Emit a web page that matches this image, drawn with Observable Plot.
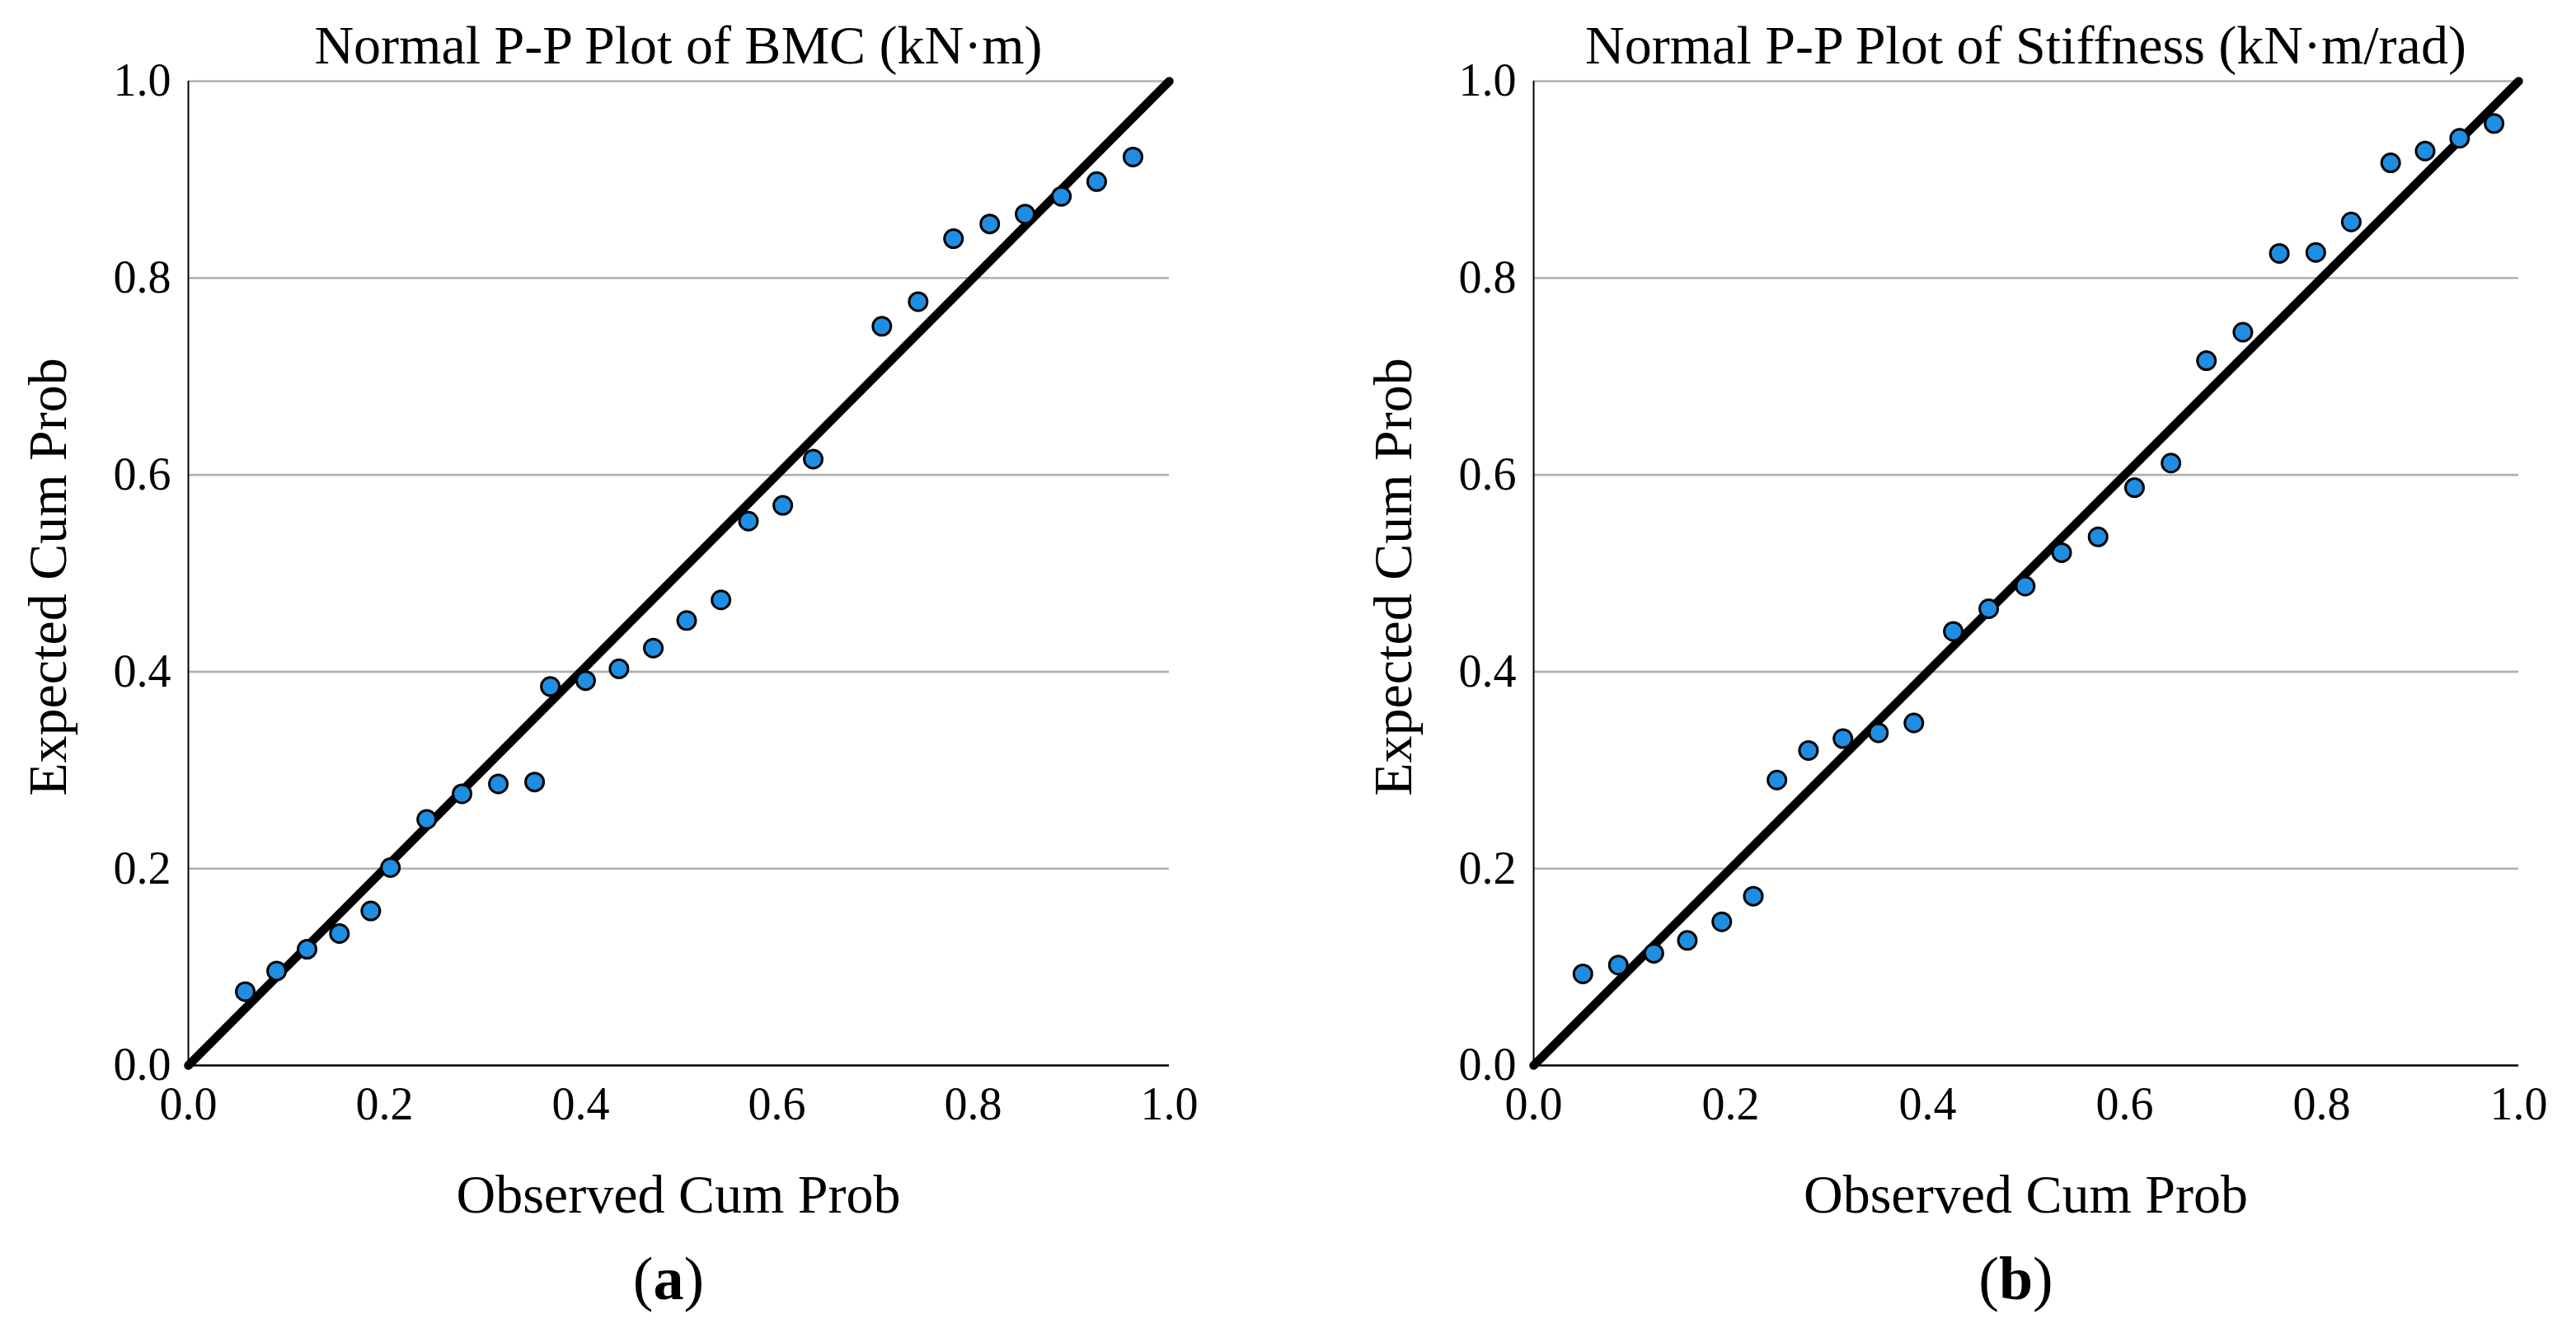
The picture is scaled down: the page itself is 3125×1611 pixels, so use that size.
<!DOCTYPE html>
<html><head><meta charset="utf-8">
<script src="https://cdn.jsdelivr.net/npm/d3@7"></script>
<script src="https://cdn.jsdelivr.net/npm/@observablehq/plot@0.6"></script>
<style>
html,body{margin:0;padding:0;background:#fff;}
#root{position:relative;width:3125px;height:1611px;overflow:hidden;background:#fff;}
#root > div, #root > svg{position:absolute;top:0;}
#root svg{max-width:none !important;}
#root svg, #root svg text, #root svg tspan{font-family:'Liberation Serif','Times New Roman',serif !important;}
</style></head><body><div id="root"></div>
<script>
// ---- data ----
const titles = ["Normal P-P Plot of BMC (kN·m)", "Normal P-P Plot of Stiffness (kN·m/rad)"];
const panelTags = ["a", "b"];
const xLabel = "Observed Cum Prob";
const yLabel = "Expected Cum Prob";
const axisTicks = [0, 0.2, 0.4, 0.6, 0.8, 1.0];
const gridTicks = [0.2, 0.4, 0.6, 0.8, 1.0];
const refLine = [0, 1];

const obsA = [0.058, 0.090, 0.121, 0.154, 0.186, 0.206, 0.243, 0.279, 0.316, 0.353, 0.369, 0.405, 0.439, 0.474, 0.508, 0.543, 0.571, 0.606, 0.637, 0.707, 0.744, 0.780, 0.817, 0.853, 0.890, 0.926, 0.963];
const expA = [0.075, 0.096, 0.118, 0.134, 0.157, 0.201, 0.250, 0.276, 0.286, 0.288, 0.385, 0.391, 0.403, 0.424, 0.452, 0.473, 0.553, 0.569, 0.616, 0.751, 0.776, 0.840, 0.855, 0.865, 0.883, 0.898, 0.923];

const obsB = [0.050, 0.086, 0.122, 0.156, 0.191, 0.223, 0.247, 0.279, 0.314, 0.350, 0.386, 0.426, 0.462, 0.499, 0.536, 0.573, 0.610, 0.647, 0.683, 0.720, 0.757, 0.794, 0.830, 0.870, 0.905, 0.940, 0.975];
const expB = [0.093, 0.102, 0.114, 0.127, 0.146, 0.172, 0.290, 0.320, 0.332, 0.338, 0.348, 0.441, 0.464, 0.487, 0.521, 0.537, 0.587, 0.612, 0.716, 0.745, 0.825, 0.826, 0.857, 0.917, 0.929, 0.942, 0.957];

const FONT = "'Liberation Serif','Times New Roman',serif";
const root = document.getElementById("root");

function panel(obs, exp, width) {
  const data = obs.map((o, i) => ({obs: o, exp: exp[i]}));
  const chart = Plot.plot({
    width, height: 1420,
    marginLeft: 228, marginRight: 142, marginTop: 98, marginBottom: 128,
    style: {background: "transparent", fontSize: "56px", color: "#000", overflow: "visible"},
    x: {domain: [0, 1], ticks: axisTicks, tickFormat: d3.format(".1f"), tickSize: 0, tickPadding: 26, label: null},
    y: {domain: [0, 1], ticks: axisTicks, tickFormat: d3.format(".1f"), tickSize: 0, tickPadding: 21, label: null},
    marks: [
      Plot.gridY(gridTicks, {stroke: "#b0b0b0", strokeOpacity: 1, strokeWidth: 2.6}),
      Plot.ruleX([0], {stroke: "#000", strokeWidth: 2}),
      Plot.ruleY([0], {stroke: "#000", strokeWidth: 2.5}),
      Plot.line(refLine, {x: d => d, y: d => d, stroke: "#000", strokeWidth: 10.5}),
      Plot.dot(data, {x: "obs", y: "exp", r: 11, fill: "#1f8ee2", stroke: "#000", strokeWidth: 3})
    ]
  });
  chart.style.width = width + "px";
  chart.style.height = "1420px";
  return chart;
}

const panels = [
  {left: 0, width: 1560, obs: obsA, exp: expA},
  {left: 1632, width: 1565, obs: obsB, exp: expB}
];

panels.forEach((p, i) => {
  const wrap = document.createElement("div");
  wrap.style.left = p.left + "px";
  wrap.style.width = p.width + "px";
  wrap.style.height = "1420px";
  wrap.appendChild(panel(p.obs, p.exp, p.width));
  root.appendChild(wrap);
});

// text overlay
const svg = d3.select(root).append("svg")
  .attr("width", 3125).attr("height", 1611)
  .style("left", "0px")
  .style("pointer-events", "none");

panels.forEach((p, i) => {
  const cx = p.left + 228 + (p.width - 228 - 142) / 2;
  svg.append("text").attr("x", cx).attr("y", 77).attr("text-anchor", "middle")
    .attr("font-size", 66).text(titles[i]);
  svg.append("text").attr("x", cx).attr("y", 1471).attr("text-anchor", "middle")
    .attr("font-size", 66).text(xLabel);
  svg.append("text").attr("transform", `translate(${p.left + 80},700) rotate(-90)`)
    .attr("text-anchor", "middle").attr("font-size", 66).text(yLabel);
  const tag = svg.append("text").attr("x", cx - 12).attr("y", 1576).attr("text-anchor", "middle")
    .attr("font-size", 74);
  tag.append("tspan").text("(");
  tag.append("tspan").attr("font-weight", "bold").text(panelTags[i]);
  tag.append("tspan").text(")");
});
</script></body></html>
